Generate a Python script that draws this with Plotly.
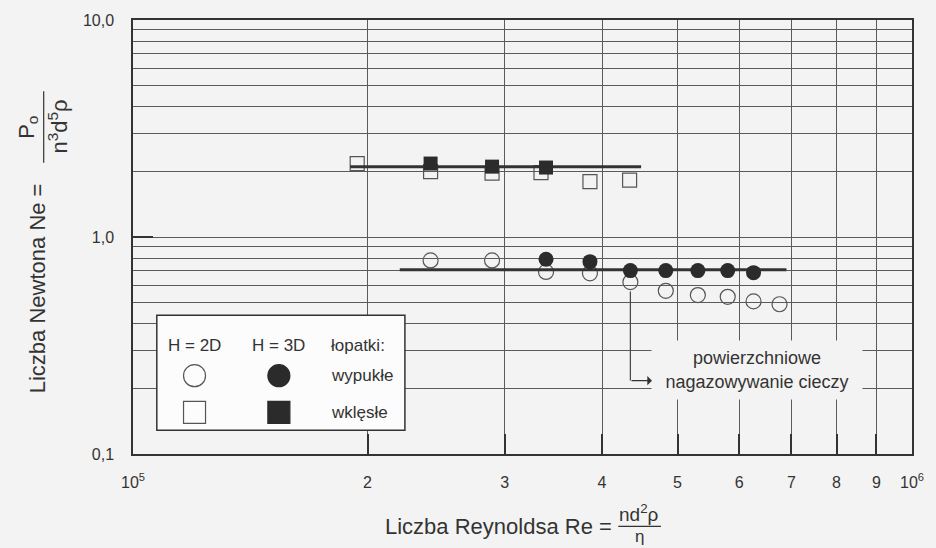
import plotly.graph_objects as go

# ---- data ----
re_2d_circ = [2.41e5, 2.89e5, 3.39e5, 3.86e5, 4.35e5, 4.83e5, 5.31e5, 5.80e5, 6.26e5, 6.76e5]
ne_2d_circ = [0.78, 0.78, 0.69, 0.68, 0.62, 0.565, 0.54, 0.53, 0.505, 0.49]
re_3d_circ = [3.39e5, 3.86e5, 4.35e5, 4.83e5, 5.31e5, 5.80e5, 6.26e5]
ne_3d_circ = [0.79, 0.77, 0.70, 0.70, 0.70, 0.70, 0.685]
re_2d_sq = [1.94e5, 2.41e5, 2.89e5, 3.34e5, 3.86e5, 4.34e5]
ne_2d_sq = [2.18, 2.0, 1.97, 1.98, 1.80, 1.83]
re_3d_sq = [2.41e5, 2.89e5, 3.39e5]
ne_3d_sq = [2.18, 2.11, 2.09]
fit_convex_re = [2.2e5, 6.9e5]
fit_convex_ne = [0.707, 0.707]
fit_concave_re = [1.9e5, 4.49e5]
fit_concave_ne = [2.11, 2.11]

x_tickvals = [1e5, 2e5, 3e5, 4e5, 5e5, 6e5, 7e5, 8e5, 9e5, 1e6]
x_ticktext = ["10<sup>5</sup>", "2", "3", "4", "5", "6", "7", "8", "9", "10<sup>6</sup>"]
y_tickvals = [0.1, 1, 10]
y_ticktext = ["0,1", "1,0", "10,0"]
y_minor = [0.2, 0.3, 0.4, 0.5, 0.6, 0.7, 0.8, 0.9, 2, 3, 4, 5, 6, 7, 8, 9]

arrow_re = 4.35e5
arrow_ne = [0.561, 0.218]

BG = "#f3f3f3"
DARK = "#2b2b2b"
GRID = "#5a5a5a"
FONT = "Liberation Sans, Arial, sans-serif"

W, H = 936, 548
L, R, T, B = 133, 18, 16, 94
PW, PH = W - L - R, H - T - B


def px(xp):
    return (xp - L) / PW


def py(yp):
    return (H - B - yp) / PH


fig = go.Figure()

open_marker = dict(color="rgba(0,0,0,0)", line=dict(color="#555", width=1.2))
fig.add_trace(go.Scatter(x=re_2d_circ, y=ne_2d_circ, mode="markers",
                         marker=dict(symbol="circle", size=15, **open_marker)))
fig.add_trace(go.Scatter(x=re_2d_sq, y=ne_2d_sq, mode="markers",
                         marker=dict(symbol="square", size=14, **open_marker)))
fig.add_trace(go.Scatter(x=fit_convex_re, y=fit_convex_ne, mode="lines",
                         line=dict(color="#333", width=3)))
fig.add_trace(go.Scatter(x=fit_concave_re, y=fit_concave_ne, mode="lines",
                         line=dict(color="#333", width=3)))
fig.add_trace(go.Scatter(x=re_3d_circ, y=ne_3d_circ, mode="markers",
                         marker=dict(symbol="circle", size=15, color=DARK, line=dict(width=0))))
fig.add_trace(go.Scatter(x=re_3d_sq, y=ne_3d_sq, mode="markers",
                         marker=dict(symbol="square", size=14, color=DARK, line=dict(width=0))))

shapes = []
# arrow vertical line
shapes.append(dict(type="line", xref="x", yref="y", x0=arrow_re, x1=arrow_re,
                   y0=arrow_ne[0], y1=arrow_ne[1], line=dict(color="#444", width=1.2)))
# legend box
shapes.append(dict(type="rect", xref="paper", yref="paper", layer="above",
                   x0=px(157), x1=px(407), y0=py(430), y1=py(314),
                   fillcolor="#fcfcfc", line=dict(color="#333", width=1.5)))


def legend_marker(kind, cx, cy, filled):
    return dict(type=kind, xref="paper", yref="paper", layer="above",
                xsizemode="pixel", ysizemode="pixel",
                xanchor=px(cx), yanchor=py(cy), x0=-11, x1=11, y0=-11, y1=11,
                fillcolor=DARK if filled else "#fcfcfc",
                line=dict(color="#555" if not filled else DARK, width=1.2))


shapes.append(legend_marker("circle", 195, 375, False))
shapes.append(legend_marker("circle", 280, 375, True))
shapes.append(legend_marker("rect", 195, 412, False))
shapes.append(legend_marker("rect", 280, 412, True))
# fraction bars for axis titles
shapes.append(dict(type="line", xref="paper", yref="paper", x0=px(43), x1=px(43),
                   y0=py(88), y1=py(160), line=dict(color="#333", width=1.2)))
shapes.append(dict(type="line", xref="paper", yref="paper", x0=px(622), x1=px(665),
                   y0=py(527), y1=py(527), line=dict(color="#333", width=1.2)))

ann = []
tf = dict(family=FONT, size=17, color="#333")
ann.append(dict(text="H = 2D", x=px(195), y=py(345), xref="paper", yref="paper",
                showarrow=False, font=tf, xanchor="center", yanchor="middle"))
ann.append(dict(text="H = 3D", x=px(280), y=py(345), xref="paper", yref="paper",
                showarrow=False, font=tf, xanchor="center", yanchor="middle"))
for t, yy in [("łopatki:", 345), ("wypukłe", 375), ("wklęsłe", 412)]:
    ann.append(dict(text=t, x=px(331), y=py(yy), xref="paper", yref="paper",
                    showarrow=False, font=tf, xanchor="left", yanchor="middle"))
# text box annotation
ann.append(dict(text="powierzchniowe<br>nagazowywanie cieczy", x=px(762), y=py(369),
                xref="paper", yref="paper", showarrow=False,
                font=dict(family=FONT, size=18, color="#333"), align="center",
                bgcolor=BG, width=208, height=56, xanchor="center", yanchor="middle"))
# arrow head
ann.append(dict(text="", x=px(656), y=py(380), xref="paper", yref="paper",
                showarrow=True, ax=-22, ay=0, arrowhead=1, arrowsize=1.2,
                arrowwidth=1.3, arrowcolor="#333"))

titlef = dict(family=FONT, size=22, color="#333")
fracf = dict(family=FONT, size=19, color="#333")
ann.append(dict(text="Liczba Reynoldsa Re =", x=px(501), y=py(527), xref="paper", yref="paper",
                showarrow=False, font=titlef, xanchor="center", yanchor="middle"))
ann.append(dict(text="nd<sup>2</sup>ρ", x=px(643), y=py(527), xref="paper", yref="paper",
                showarrow=False, font=fracf, xanchor="center", yanchor="bottom", borderpad=0))
ann.append(dict(text="η", x=px(643), y=py(537), xref="paper", yref="paper",
                showarrow=False, font=dict(family=FONT, size=17, color="#333"),
                xanchor="center", yanchor="middle", borderpad=0))
ann.append(dict(text="Liczba Newtona Ne =", x=px(37), y=py(287), xref="paper", yref="paper",
                showarrow=False, font=titlef, textangle=-90, xanchor="center", yanchor="middle"))
ann.append(dict(text="P<sub>o</sub>", x=px(27), y=py(124), xref="paper", yref="paper",
                showarrow=False, font=titlef, textangle=-90, xanchor="center", yanchor="middle"))
ann.append(dict(text="n<sup>3</sup>d<sup>5</sup>ρ", x=px(57), y=py(124), xref="paper", yref="paper",
                showarrow=False, font=titlef, textangle=-90, xanchor="center", yanchor="middle"))

fig.update_layout(
    width=W, height=H, autosize=False,
    margin=dict(l=L, r=R, t=T, b=B),
    paper_bgcolor=BG, plot_bgcolor=BG,
    showlegend=False,
    shapes=shapes, annotations=ann,
    font=dict(family=FONT, size=16, color="#333"),
)
fig.update_xaxes(type="log", range=[5, 6], tickmode="array", tickvals=x_tickvals,
                 ticktext=x_ticktext, showgrid=True, gridcolor=GRID, gridwidth=1,
                 ticks="inside", ticklen=20, tickwidth=2, tickcolor="#333",
                 showline=True, linecolor="#333", linewidth=1.5, mirror=True,
                 zeroline=False, tickfont=dict(size=16, color="#333"), ticklabelstandoff=13)
fig.update_yaxes(type="log", range=[-1, 1], tickmode="array", tickvals=y_tickvals,
                 ticktext=y_ticktext, showgrid=True, gridcolor=GRID, gridwidth=1,
                 ticks="inside", ticklen=20, tickwidth=2, tickcolor="#333",
                 showline=True, linecolor="#333", linewidth=1.5, mirror=True,
                 zeroline=False, tickfont=dict(size=16, color="#333"), ticklabelstandoff=14,
                 minor=dict(tickmode="array", tickvals=y_minor, showgrid=True,
                            gridcolor=GRID, gridwidth=1, ticks=""))

fig.write_html(
    "out.html",
    config={"displayModeBar": False},
    post_script="document.body.style.margin='0';document.body.style.padding='0';"
                "document.body.style.background='#f3f3f3';"
                "document.documentElement.style.overflow='hidden';",
)
